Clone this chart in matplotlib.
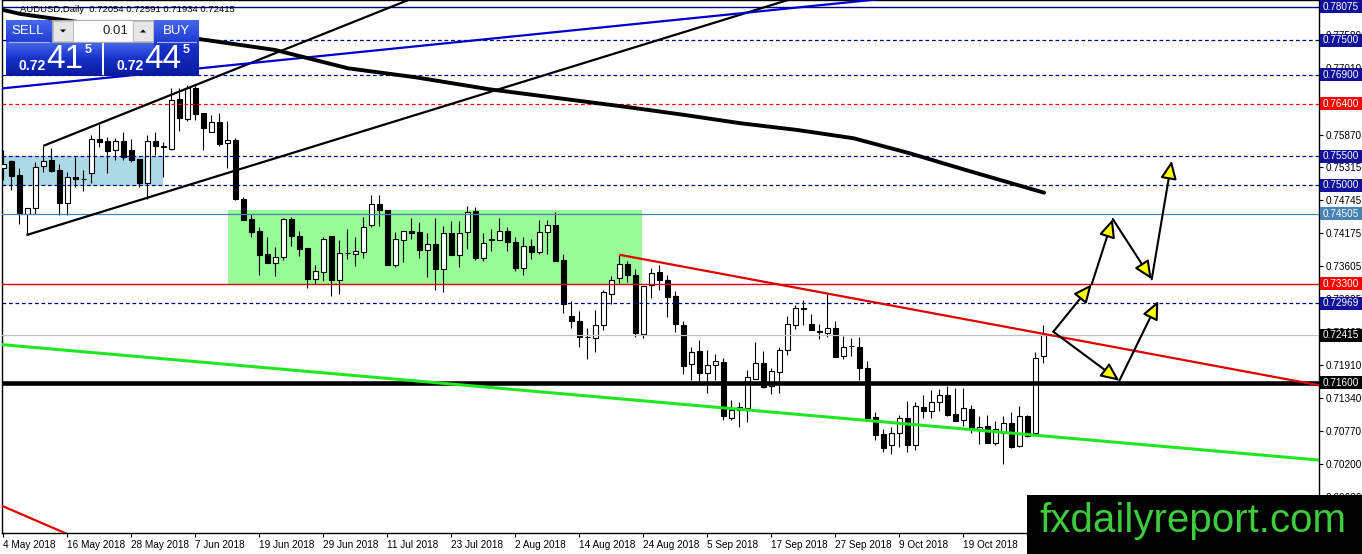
import numpy as np
import matplotlib
matplotlib.use("Agg")
from matplotlib import pyplot as plt
from matplotlib.patches import Rectangle, Polygon
from matplotlib.colors import LinearSegmentedColormap

plt.rcParams['font.family'] = ['Liberation Sans', 'DejaVu Sans']

# AUDUSD daily candles, bar 0 = 4 May 2018 (one bar per weekday)
opens = [.7530, .7542, .7517, .7451, .7460, .7533, .7543, .7526, .7469, .7514,
         .7510, .7521, .7580, .7576, .7560, .7576, .7560, .7545, .7504, .7576,
         .7566, .7562, .7648, .7614, .7667, .7625, .7592, .7609, .7572, .7577,
         .7477, .7441, .7422, .7381, .7366, .7376, .7441, .7413, .7392, .7339,
         .7350, .7412, .7337, .7383, .7381, .7385, .7431, .7467, .7458, .7363,
         .7406, .7421, .7419, .7389, .7398, .7356, .7418, .7379, .7419, .7455,
         .7374, .7407, .7406, .7422, .7403, .7357, .7396, .7385, .7419, .7431,
         .7371, .7274, .7267, .7238, .7237, .7260, .7313, .7341, .7365, .7346,
         .7244, .7329, .7351, .7337, .7310, .7260, .7192, .7214, .7176, .7191,
         .7196, .7100, .7113, .7116, .7166, .7194, .7155, .7178, .7216, .7260,
         .7288, .7261, .7249, .7245, .7254, .7206, .7223, .7222, .7185, .7101,
         .7072, .7053, .7074, .7099, .7053, .7119, .7112, .7126, .7139, .7106,
         .7096, .7114, .7081, .7085, .7057, .7074, .7091, .7051, .7103, .7074,
         .72054]
highs = [.7560, .7543, .7529, .7460, .7540, .7568, .7564, .7537, .7523, .7549,
         .7526, .7586, .7605, .7583, .7582, .7591, .7580, .7545, .7586, .7592,
         .7575, .7667, .7667, .7672, .7672, .7625, .7621, .7624, .7610, .7582,
         .7480, .7451, .7428, .7410, .7393, .7443, .7445, .7422, .7392, .7362,
         .7411, .7412, .7405, .7424, .7411, .7445, .7484, .7484, .7458, .7419,
         .7422, .7443, .7437, .7417, .7443, .7430, .7438, .7438, .7465, .7462,
         .7417, .7425, .7443, .7428, .7411, .7411, .7408, .7440, .7440, .7454,
         .7382, .7300, .7283, .7254, .7285, .7319, .7343, .7380, .7369, .7356,
         .7327, .7357, .7362, .7345, .7318, .7267, .7222, .7234, .7216, .7210,
         .7202, .7130, .7126, .7182, .7230, .7215, .7186, .7222, .7274, .7293,
         .7303, .7279, .7261, .7312, .7267, .7240, .7237, .7238, .7197, .7109,
         .7080, .7083, .7105, .7128, .7126, .7139, .7148, .7149, .7155, .7150,
         .7150, .7122, .7103, .7104, .7094, .7103, .7109, .7120, .7104, .7212,
         .72591]
lows = [.7509, .7491, .7434, .7414, .7451, .7523, .7523, .7448, .7448, .7497,
        .7490, .7503, .7566, .7521, .7543, .7543, .7540, .7497, .7476, .7552,
        .7514, .7560, .7594, .7611, .7612, .7560, .7592, .7567, .7530, .7474,
        .7440, .7411, .7345, .7366, .7343, .7372, .7395, .7378, .7323, .7330,
        .7335, .7309, .7313, .7373, .7361, .7374, .7428, .7430, .7363, .7359,
        .7368, .7407, .7374, .7342, .7320, .7316, .7379, .7359, .7391, .7372,
        .7369, .7386, .7405, .7387, .7353, .7346, .7373, .7382, .7382, .7369,
        .7280, .7255, .7222, .7201, .7212, .7250, .7296, .7331, .7333, .7238,
        .7237, .7306, .7319, .7273, .7247, .7175, .7164, .7162, .7142, .7165,
        .7096, .7096, .7083, .7092, .7166, .7150, .7141, .7142, .7207, .7253,
        .7260, .7250, .7236, .7239, .7204, .7200, .7206, .7164, .7099, .7061,
        .7040, .7038, .7050, .7040, .7044, .7099, .7100, .7112, .7103, .7094,
        .7085, .7074, .7054, .7057, .7053, .7020, .7048, .7050, .7066, .7074,
        .71934]
closes = [.7537, .7516, .7452, .7460, .7531, .7541, .7525, .7469, .7514, .7510,
          .7511, .7579, .7575, .7559, .7576, .7548, .7543, .7504, .7576, .7567,
          .7567, .7646, .7615, .7667, .7622, .7598, .7609, .7571, .7577, .7476,
          .7440, .7419, .7379, .7366, .7377, .7441, .7413, .7391, .7338, .7353,
          .7407, .7336, .7384, .7384, .7386, .7428, .7467, .7457, .7363, .7407,
          .7422, .7418, .7389, .7398, .7356, .7417, .7379, .7418, .7454, .7374,
          .7401, .7406, .7422, .7403, .7357, .7395, .7385, .7420, .7432, .7369,
          .7296, .7266, .7238, .7239, .7260, .7316, .7337, .7365, .7346, .7245,
          .7326, .7349, .7336, .7308, .7261, .7189, .7212, .7177, .7191, .7198,
          .7103, .7113, .7119, .7170, .7194, .7153, .7180, .7217, .7261, .7289,
          .7287, .7250, .7248, .7255, .7204, .7222, .7224, .7185, .7099, .7070,
          .7048, .7074, .7099, .7052, .7120, .7111, .7127, .7139, .7105, .7094,
          .7116, .7082, .7083, .7057, .7081, .7090, .7050, .7103, .7069, .7203,
          .72415]

date_labels = ["4 May 2018", "16 May 2018", "28 May 2018", "7 Jun 2018", "19 Jun 2018",
               "29 Jun 2018", "11 Jul 2018", "23 Jul 2018", "2 Aug 2018", "14 Aug 2018",
               "24 Aug 2018", "5 Sep 2018", "17 Sep 2018", "27 Sep 2018", "9 Oct 2018",
               "19 Oct 2018", "31 Oct 2018"]
bars_per_label = 8

axis_ticks = [0.77580, 0.77010, 0.76440, 0.75870, 0.75315, 0.74745, 0.74175, 0.73605,
              0.73035, 0.72465, 0.71910, 0.71340, 0.70770, 0.70200, 0.69630]

# horizontal levels
level_prices = [0.78075, 0.77500, 0.76900, 0.76400, 0.75500, 0.75000,
                0.74505, 0.73300, 0.72969, 0.72415, 0.71600]

# moving average (bar, price)
ma_bars = [-0.4, 2.1, 24.75, 34.0, 43.1, 51.55, 60.7, 71.2, 78.2, 85.2, 92.2, 99.25,
           106.3, 113.3, 120.3, 130.1]
ma_values = [0.7803, 0.7795, 0.77512, 0.77328, 0.77013, 0.76858, 0.76653, 0.76467,
             0.76342, 0.76209, 0.76066, 0.75951, 0.75808, 0.75550, 0.75262, 0.74871]

# trendline anchors (bar, price)
upper_channel = [(5.0, 0.75677), (49.8, 0.78143)]
lower_channel = [(2.9, 0.74142), (97.0, 0.78143)]
blue_trend = [(-0.4, 0.76663), (105.2, 0.78143)]
red_trend = [(77.0, 0.73803), (164.5, 0.71555)]
green_trend = [(-0.4, 0.72258), (164.5, 0.70267)]
red_small = [(-0.4, 0.69494), (7.7, 0.69012)]

# projection arrows (bar, price)
path_up = [(131.25, 0.72478), (136.05, 0.73294), (138.68, 0.74418), (143.55, 0.73380),
           (146.05, 0.75422)]
path_down = [(131.25, 0.72478), (139.5, 0.71634), (144.38, 0.73007)]

# boxes (bar0, bar1, price_low, price_high)
blue_zone = (-1.0, 20.0, 0.7499, 0.7550)
green_zone = (28.05, 79.9, 0.7329, 0.7457)

W, H = 1362, 554
fig = plt.figure(figsize=(W / 100, H / 100), dpi=100)
ax = fig.add_axes([2 / W, 21 / H, 1317 / W, 533 / H])
ax.set_xlim(-0.16, 164.46)
ax.set_ylim(0.69012, 0.78189)

navy = '#000080'
navy_box = '#10109a'
red = '#ff0000'
steel = '#4682b4'

for z, col in ((blue_zone, '#add8e6'), (green_zone, '#98fb98')):
    ax.add_patch(Rectangle((z[0], z[2]), z[1] - z[0], z[3] - z[2], fc=col, ec='none', zorder=0.5))

# candles
o = np.array(opens)
c = np.array(closes)
idx = np.arange(len(o))
up = c >= o
bot = np.minimum(o, c)
hgt = np.abs(c - o)
ax.vlines(idx, lows, highs, color='black', lw=0.8, zorder=3)
ax.bar(idx[up], hgt[up], 0.6, bot[up], facecolor='white', edgecolor='black', lw=0.8, zorder=4)
ax.bar(idx[~up], hgt[~up], 0.6, bot[~up], facecolor='black', edgecolor='black', lw=0.8, zorder=4)

level_colors = [navy, navy, navy, red, navy, navy, steel, '#e00000', navy, '#c0c0c0', 'black']
level_dashed = [False, True, True, True, True, True, False, False, True, False, False]
level_width = [1.0, 0.9, 0.9, 0.9, 0.9, 0.9, 0.9, 1.0, 0.9, 0.9, 3.3]
box_colors = [navy_box, navy_box, navy_box, red, navy_box, navy_box, steel, red,
              navy_box, 'black', 'black']
for p, col, dsh, lw in zip(level_prices, level_colors, level_dashed, level_width):
    ln = ax.axhline(p, color=col, lw=lw, zorder=5)
    if dsh:
        ln.set_dashes((3, 2.2))

def extend(pts, x_end):
    (x0, y0), (x1, y1) = pts
    k = (y1 - y0) / (x1 - x0)
    return [x0, x_end], [y0, y0 + k * (x_end - x0)]

for pts, col, lw, xe in ((upper_channel, 'black', 1.6, 70),
                         (lower_channel, 'black', 1.6, 110),
                         (blue_trend, '#0000cc', 1.6, 115),
                         (red_trend, '#e00000', 1.6, 170),
                         (green_trend, '#22e622', 2.2, 170),
                         (red_small, '#e00000', 1.6, 12)):
    xs, ys = extend(pts, xe)
    ax.plot(xs, ys, color=col, lw=lw, zorder=6, solid_capstyle='butt')

ax.plot(ma_bars, ma_values, color='black', lw=2.8, zorder=6, solid_capstyle='round')

for path in (path_up, path_down):
    for a, b in zip(path[:-1], path[1:]):
        ax.annotate('', xy=b, xytext=a,
                    arrowprops=dict(arrowstyle='-|>,head_length=1.0,head_width=0.45',
                                    mutation_scale=11, fc='#ffff00', ec='black', lw=1.5,
                                    shrinkA=0, shrinkB=0), zorder=8)

# axes styling
for s in ax.spines.values():
    s.set_color('black')
    s.set_linewidth(1)
ax.yaxis.tick_right()
ax.set_yticks(axis_ticks)
ax.set_yticklabels([f"{t:.5f}" for t in axis_ticks])
ax.tick_params(axis='y', length=3, width=0.8, pad=2, labelsize=7.2)
tick_pos = [k * bars_per_label for k in range(len(date_labels))]
ax.set_xticks(tick_pos)
ax.set_xticklabels(date_labels, ha='left')
ax.tick_params(axis='x', length=3, width=0.8, pad=2, labelsize=7.2)

# overlay in pixel coordinates: price boxes, header, trade panel, watermark
ov = fig.add_axes([0, 0, 1, 1], zorder=10)
ov.axis('off')

for p, col in zip(level_prices, box_colors):
    y_px = H - ax.transData.transform((0, p))[1]
    ov.add_patch(Rectangle((1320, y_px - 6.5), 42, 13, fc=col, ec='none', zorder=1))
    ov.text(1323, y_px, f"{p:.5f}", fontsize=7.2, ha='left', va='center',
            color='white', zorder=2)

ov.text(20, 10, "AUDUSD,Daily  0.72054 0.72591 0.71934 0.72415", fontsize=6.8,
        va='center', ha='left', color='black')

grad = np.linspace(0, 1, 64).reshape(-1, 1)
cmap = LinearSegmentedColormap.from_list('btn', ['#4668ee', '#1630c8', '#0a1a9c'])
for x0, y0, w, h in ((6, 20, 46, 56), (104, 42, 95, 34), (154, 20, 45, 56), (6, 42, 96, 34)):
    ov.imshow(grad, cmap=cmap, extent=(x0, x0 + w, y0 + h, y0), aspect='auto',
              interpolation='bilinear', zorder=1)
for x0, x1 in ((9, 49), (157, 196)):
    ov.plot([x0, x1], [42, 42], color='#aab4e8', lw=0.8, zorder=2)
ov.add_patch(Rectangle((52, 20), 101, 22, fc='#f2f2f2', ec='#a8a8a8', lw=0.8, zorder=2))
ov.add_patch(Rectangle((74, 21), 58, 20, fc='white', ec='none', zorder=3))
for bx in (53, 133):
    ov.add_patch(Rectangle((bx, 21), 20, 20, fc='#e6e6e6', ec='#b8b8b8', lw=0.6, zorder=3))
ov.add_patch(Polygon([(60, 29.5), (66, 29.5), (63, 32.5)], closed=True, fc='black', ec='none', zorder=4))
ov.add_patch(Polygon([(140, 32.5), (146, 32.5), (143, 29.5)], closed=True, fc='black', ec='none', zorder=4))
ov.text(128, 31, "0.01", fontsize=9.5, ha='right', va='center', color='#222222', zorder=5)
ov.text(28, 31, "SELL", fontsize=9.5, ha='center', va='center', color='white', zorder=5)
ov.text(176, 31, "BUY", fontsize=9.5, ha='center', va='center', color='white', zorder=5)
for xs, big in ((32, "41"), (130, "44")):
    ov.text(xs, 66, "0.72", fontsize=10, weight='bold', ha='center', va='center', color='white', zorder=5)
    ov.text(xs + 33, 59, big, fontsize=24, ha='center', va='center', color='white', zorder=5)
    ov.text(xs + 56, 50, "5", fontsize=9, weight='bold', ha='center', va='center', color='white', zorder=5)

ov.add_patch(Rectangle((1027, 495), 335, 59, fc='black', ec='none', zorder=6))
ov.text(1193, 521, "fxdailyreport.com", fontsize=29, ha='center', va='center',
        color='#3ccc3c', zorder=7)

ov.set_xlim(0, W)
ov.set_ylim(H, 0)

fig.savefig("out.png", dpi=100)
